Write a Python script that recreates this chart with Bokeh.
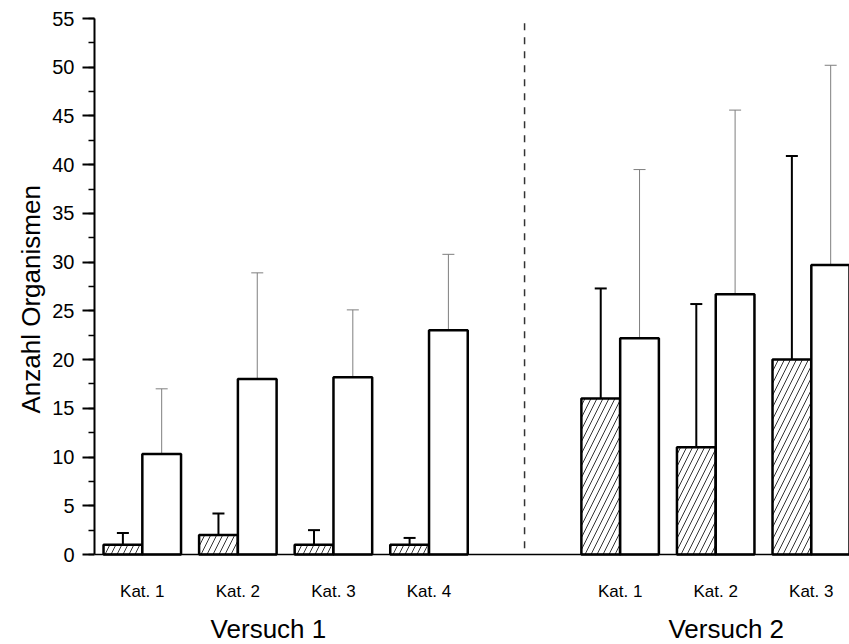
from bokeh.plotting import figure
from bokeh.models import Range1d, SingleIntervalTicker, ColumnDataSource, Whisker, TeeHead, Span, Title
from bokeh.core.properties import value
from bokeh.embed import file_html
from bokeh.resources import INLINE

# ---------------- data ----------------
group_labels = ["Versuch 1", "Versuch 2"]
categories_v1 = ["Kat. 1", "Kat. 2", "Kat. 3", "Kat. 4"]
categories_v2 = ["Kat. 1", "Kat. 2", "Kat. 3"]

hatched_mean_v1 = [1.0, 2.0, 1.0, 1.0]
hatched_sd_v1 = [1.2, 2.2, 1.5, 0.7]
open_mean_v1 = [10.3, 18.0, 18.2, 23.0]
open_sd_v1 = [6.7, 10.9, 6.9, 7.8]

hatched_mean_v2 = [16.0, 11.0, 20.0]
hatched_sd_v2 = [11.3, 14.7, 20.9]
open_mean_v2 = [22.2, 26.7, 29.7]
open_sd_v2 = [17.3, 18.9, 20.5]

y_label = "Anzahl Organismen"
y_max = 55
y_tick_step = 5

# ---------------- layout / style ----------------
FONT = "Liberation Sans"
BAR_W = 0.405
OFF = 0.203
GAP = 2  # slots between last category of Versuch 1 and first of Versuch 2

x_v1 = [i + 1 for i in range(len(categories_v1))]
x_v2 = [len(categories_v1) + GAP + i for i in range(len(categories_v2))]
xs = x_v1 + x_v2
cats = categories_v1 + categories_v2
h_mean = hatched_mean_v1 + hatched_mean_v2
h_sd = hatched_sd_v1 + hatched_sd_v2
o_mean = open_mean_v1 + open_mean_v2
o_sd = open_sd_v1 + open_sd_v2

x_start = 0.5
x_end = 8.40
y_start = -9.235

p = figure(width=849, height=644, title=None,
           x_range=Range1d(x_start, x_end), y_range=Range1d(y_start, y_max),
           output_backend="svg", toolbar_location=None,
           x_axis_location=None,
           min_border_left=94, min_border_right=0, min_border_top=18, min_border_bottom=0)
p.outline_line_color = None
p.grid.visible = False
p.background_fill_color = "white"
p.border_fill_color = "white"

ya = p.yaxis[0]
ya.ticker = SingleIntervalTicker(interval=y_tick_step, num_minor_ticks=2)
ya.bounds = (0, y_max)
ya.axis_line_width = 2
ya.axis_line_color = "black"
ya.major_tick_out = 12
ya.major_tick_in = 0
ya.minor_tick_out = 6
ya.minor_tick_in = 0
ya.major_tick_line_width = 2
ya.minor_tick_line_width = 1.5
ya.major_tick_line_color = "black"
ya.minor_tick_line_color = "black"
ya.major_label_text_font = FONT
ya.major_label_text_font_size = "20px"
ya.major_label_text_color = "black"
ya.major_label_standoff = 8

# y axis title (vertical, placed on the left)
p.add_layout(Title(text=y_label, align="left", offset=231, text_font=FONT,
                   text_font_size="26px", text_font_style="normal", text_color="black",
                   standoff=7), "left")

# baseline
p.add_layout(Span(location=0, dimension="width", line_color="black", line_width=1.5))

# separator between experiments
sep_x = (x_v1[-1] + x_v2[0]) / 2
p.segment(x0=[sep_x], y0=[y_max - 0.5], x1=[sep_x], y1=[0], line_color="#333333",
          line_width=1.5, line_dash="7 7")

h_src = ColumnDataSource(dict(x=[x - OFF for x in xs], top=h_mean,
                              upper=[m + s for m, s in zip(h_mean, h_sd)]))
o_src = ColumnDataSource(dict(x=[x + OFF for x in xs], top=o_mean,
                              upper=[m + s for m, s in zip(o_mean, o_sd)]))

p.vbar(x="x", top="top", bottom=0, width=BAR_W, source=h_src,
       fill_color="white", line_color="black", line_width=2.5,
       hatch_pattern="/", hatch_scale=12, hatch_weight=0.8, hatch_color="black")
p.vbar(x="x", top="top", bottom=0, width=BAR_W, source=o_src,
       fill_color="white", line_color="black", line_width=2.5)

p.add_layout(Whisker(source=h_src, base="x", lower="top", upper="upper", dimension="height",
                     line_color="black", line_width=2, lower_head=None,
                     upper_head=TeeHead(size=12, line_color="black", line_width=2)))
p.add_layout(Whisker(source=o_src, base="x", lower="top", upper="upper", dimension="height",
                     line_color="#7f7f7f", line_width=1, lower_head=None,
                     upper_head=TeeHead(size=12, line_color="#7f7f7f", line_width=1)))

# category labels
CAT_Y = -3.75
p.text(x=xs, y=[CAT_Y] * len(xs), text=cats, text_align="center", text_baseline="middle",
       text_font=value(FONT), text_font_size=value("17px"), text_color="black")

# group labels
GROUP_Y = -7.6
grp_x = [sum(x_v1) / len(x_v1) - 0.18, sum(x_v2) / len(x_v2) + 0.11]
p.text(x=grp_x, y=[GROUP_Y] * 2, text=group_labels, text_align="center", text_baseline="middle",
       text_font=value(FONT), text_font_size=value("26px"), text_color="black")

open("out.html", "w").write(file_html(p, INLINE))
